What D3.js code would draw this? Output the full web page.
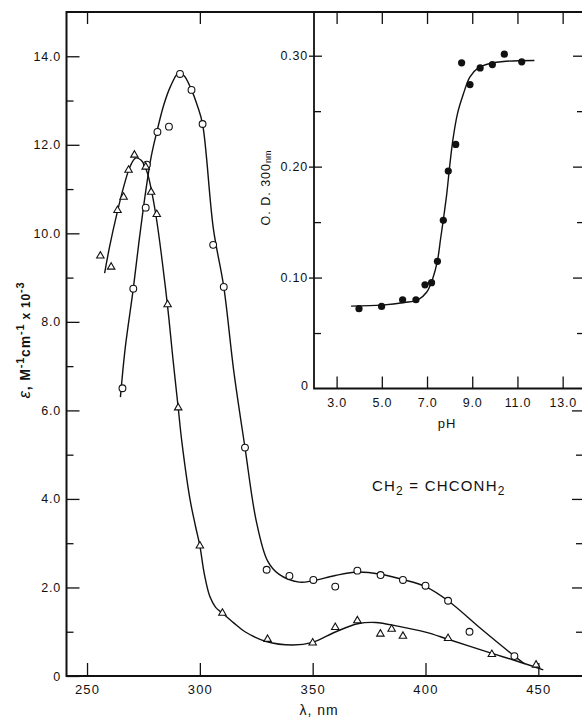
<!DOCTYPE html>
<html>
<head>
<meta charset="utf-8">
<script src="https://cdn.jsdelivr.net/npm/d3@7"></script>
<style>
    body { margin: 0; background: #fff; }
    svg { display: block; }
    text { font-family: 'Liberation Sans', Arial, sans-serif; fill: #111; }
    .domain { display: none; }
    .tick line { stroke: #111; stroke-width: 1.3; }
</style>
</head>
<body>
<div id="chart"></div>
<script>
// Main spectrum: open circles
const circleLambda = [265.7, 270.5, 276, 276.5, 281.2, 286.3, 291.2, 296.3, 301.2, 305.9, 310.6, 320, 329.6, 339.7, 350.3, 360, 369.8, 380.1, 390, 400, 410, 419.5, 439.4]
const circleEps = [6.5, 8.75, 10.58, 11.55, 12.29, 12.41, 13.6, 13.24, 12.47, 9.74, 8.79, 5.16, 2.4, 2.26, 2.17, 2.02, 2.38, 2.28, 2.17, 2.04, 1.7, 1.0, 0.45]

// Main spectrum: open triangles
const triangleLambda = [255.9, 260.7, 263.5, 266.2, 268.4, 271, 276, 278.4, 280.9, 285.7, 290.4, 300, 310, 330, 350, 360, 369.8, 380, 385, 390, 410, 429.4, 449]
const triangleEps = [9.49, 9.24, 10.52, 10.82, 11.43, 11.77, 11.5, 10.93, 10.43, 8.39, 6.06, 2.94, 1.42, 0.83, 0.75, 1.1, 1.25, 0.95, 1.06, 0.9, 0.85, 0.49, 0.25]

// Hand drawn curves
const circleCurveLambda = [264.8, 266.9, 270.5, 273, 276, 278.5, 281.2, 284, 287, 290.5, 293, 296.3, 298.8, 301.2, 306, 310.6, 315, 320, 325, 330, 335, 344, 350, 360, 370, 380, 390, 400, 410, 425, 439.4, 444]
const circleCurveEps = [6.3, 7.4, 8.75, 9.8, 10.95, 11.75, 12.35, 12.9, 13.32, 13.62, 13.56, 13.24, 12.9, 12.47, 10.1, 8.79, 6.9, 5.16, 3.5, 2.6, 2.3, 2.12, 2.15, 2.27, 2.35, 2.3, 2.18, 2.02, 1.7, 1.05, 0.45, 0.27]

const triangleCurveLambda = [257.8, 260, 263.5, 266.5, 269, 271.5, 274, 276.5, 279, 281, 283, 285.7, 288, 290.4, 292, 295.6, 298, 300, 302, 304.4, 307, 310, 315, 320, 329.4, 341, 350, 360.3, 369.9, 377.9, 388.2, 400, 410, 429.4, 439.7, 452.2]
const triangleCurveEps = [9.1, 9.7, 10.5, 11.1, 11.5, 11.7, 11.65, 11.4, 10.85, 10.25, 9.5, 8.35, 7.2, 6.06, 5.3, 4.0, 3.4, 2.94, 2.3, 1.8, 1.55, 1.42, 1.2, 1.0, 0.78, 0.7, 0.76, 1.0, 1.18, 1.21, 1.12, 0.99, 0.83, 0.51, 0.35, 0.14]

// Inset titration: filled dots
const phValues = [3.99, 4.99, 5.92, 6.51, 6.91, 7.2, 7.46, 7.72, 7.94, 8.27, 8.53, 8.9, 9.35, 9.89, 10.42, 11.19]
const odValues = [0.072, 0.074, 0.08, 0.08, 0.0935, 0.0954, 0.1146, 0.1516, 0.196, 0.22, 0.2936, 0.274, 0.289, 0.292, 0.3014, 0.2945]

const phCurve = [3.64, 5.0, 6.0, 6.6, 6.99, 7.25, 7.46, 7.6, 7.72, 7.87, 8.0, 8.15, 8.35, 8.6, 8.9, 9.27, 9.79, 10.5, 11.75]
const odCurve = [0.0743, 0.0752, 0.0775, 0.08, 0.087, 0.099, 0.115, 0.135, 0.152, 0.175, 0.2, 0.225, 0.248, 0.265, 0.281, 0.289, 0.293, 0.295, 0.2957]

// Tick labels
const lambdaTicks = [250, 300, 350, 400, 450]
const epsTicks = [0, 2, 4, 6, 8, 10, 12, 14]
const epsTickLabels = ['0', '2.0', '4.0', '6.0', '8.0', '10.0', '12.0', '14.0']
const phTicks = [3, 5, 7, 9, 11, 13]
const phTickLabels = ['3.0', '5.0', '7.0', '9.0', '11.0', '13.0']
const odTicks = [0, 0.1, 0.2, 0.3]
const odTickLabels = ['0', '0.10', '0.20', '0.30']

const W = 582
const H = 723

const svg = d3.select('#chart')
    .append('svg')
    .attr('width', W)
    .attr('height', H)

// Main frame (right edge runs just off the page)
const main = { left: 66.5, right: 583, top: 12, bottom: 676 }
const inset = { left: 314, right: 583, top: 12, bottom: 388.5 }

const x = d3.scaleLinear().domain([240.9, 469.8]).range([main.left, main.right])
const y = d3.scaleLinear().domain([0, 15]).range([main.bottom, main.top])

const px = d3.scaleLinear().domain([2.0, 13.9]).range([inset.left, inset.right])
const py = d3.scaleLinear().domain([0, 0.3394]).range([inset.bottom, inset.top])

const tickFont = g => g.selectAll('text')
    .style('font-size', '12.5px')
    .style('letter-spacing', '0.8px')
    .attr('fill', '#111')

// ---- main axes ----
svg.append('g')
    .attr('transform', `translate(${main.left},0)`)
    .call(d3.axisLeft(y).tickValues(epsTicks).tickSizeInner(-13).tickSizeOuter(0).tickPadding(5.5)
        .tickFormat((d, i) => epsTickLabels[i]))
    .call(tickFont)
svg.append('g')
    .attr('transform', `translate(${main.left},0)`)
    .call(d3.axisLeft(y).tickValues(d3.range(1, 15, 2)).tickSizeInner(-7).tickSizeOuter(0).tickFormat(''))

// right side ticks below the inset
svg.append('g')
    .attr('transform', `translate(${main.right},0)`)
    .call(d3.axisRight(y).tickValues([2, 4, 6]).tickSizeInner(-11).tickSizeOuter(0).tickFormat(''))
svg.append('g')
    .attr('transform', `translate(${main.right},0)`)
    .call(d3.axisRight(y).tickValues([1, 3, 5]).tickSizeInner(-7).tickSizeOuter(0).tickFormat(''))

svg.append('g')
    .attr('transform', `translate(0,${main.bottom})`)
    .call(d3.axisBottom(x).tickValues(lambdaTicks).tickSizeInner(-13).tickSizeOuter(0).tickPadding(8.5))
    .call(g => g.selectAll('text').style('font-size', '13px').style('letter-spacing', '1.2px'))

svg.append('g')
    .attr('transform', `translate(0,${main.top})`)
    .call(d3.axisTop(x).tickValues([250, 300]).tickSizeInner(-12).tickSizeOuter(0).tickFormat(''))

// ---- inset axes ----
const insetLeft = svg.append('g')
    .attr('transform', `translate(${inset.left},0)`)
    .call(d3.axisLeft(py).tickValues(odTicks.slice(1)).tickSizeInner(-8).tickSizeOuter(0).tickPadding(6)
        .tickFormat((d, i) => odTickLabels[i + 1]))
    .call(tickFont)
insetLeft.selectAll('.tick line').attr('x1', -5)
svg.append('text')
    .attr('x', inset.left - 6)
    .attr('y', py(0))
    .attr('dy', '0.1em')
    .attr('text-anchor', 'end')
    .style('font-size', '12.5px')
    .text(odTickLabels[0])
svg.append('g')
    .attr('transform', `translate(${inset.left},0)`)
    .call(d3.axisLeft(py).tickValues([0.05, 0.15, 0.25]).tickSizeInner(-7).tickSizeOuter(0).tickFormat(''))

svg.append('g')
    .attr('transform', `translate(${inset.right},0)`)
    .call(d3.axisRight(py).tickValues([0.1, 0.2, 0.3]).tickSizeInner(-10).tickSizeOuter(0).tickFormat(''))
svg.append('g')
    .attr('transform', `translate(${inset.right},0)`)
    .call(d3.axisRight(py).tickValues([0.05, 0.15, 0.25]).tickSizeInner(-6).tickSizeOuter(0).tickFormat(''))

svg.append('g')
    .attr('transform', `translate(0,${inset.bottom})`)
    .call(d3.axisBottom(px).tickValues(phTicks).tickSizeInner(-12).tickSizeOuter(0).tickPadding(10)
        .tickFormat((d, i) => phTickLabels[i]))
    .call(tickFont)
svg.append('g')
    .attr('transform', `translate(0,${inset.top})`)
    .call(d3.axisTop(px).tickValues(phTicks).tickSizeInner(-12).tickSizeOuter(0).tickFormat(''))

// frames
svg.append('rect')
    .attr('x', main.left)
    .attr('y', main.top)
    .attr('width', main.right - main.left)
    .attr('height', main.bottom - main.top)
    .attr('fill', 'none')
    .attr('stroke', '#111')
    .attr('stroke-width', 2)
svg.append('path')
    .attr('d', `M${inset.left},${inset.top}V${inset.bottom}H${inset.right}`)
    .attr('fill', 'none')
    .attr('stroke', '#111')
    .attr('stroke-width', 1.8)

// ---- curves ----
const line = d3.line().curve(d3.curveCatmullRom.alpha(0.5))

const drawCurve = (xs, ys, sx, sy) => svg.append('path')
    .attr('d', line(xs.map((v, i) => [sx(v), sy(ys[i])])))
    .attr('fill', 'none')
    .attr('stroke', '#111')
    .attr('stroke-width', 1.4)

drawCurve(circleCurveLambda, circleCurveEps, x, y)
drawCurve(triangleCurveLambda, triangleCurveEps, x, y)
drawCurve(phCurve, odCurve, px, py)

// ---- markers ----
svg.append('g')
    .selectAll('circle')
    .data(circleLambda)
    .enter()
    .append('circle')
    .attr('cx', d => x(d))
    .attr('cy', (d, i) => y(circleEps[i]))
    .attr('r', 3.4)
    .attr('fill', '#fff')
    .attr('stroke', '#111')
    .attr('stroke-width', 1.1)

const tri = d3.symbol().type(d3.symbolTriangle).size(24)
svg.append('g')
    .selectAll('path')
    .data(triangleLambda)
    .enter()
    .append('path')
    .attr('d', tri)
    .attr('transform', (d, i) => `translate(${x(d)},${y(triangleEps[i])})`)
    .attr('fill', '#fff')
    .attr('stroke', '#111')
    .attr('stroke-width', 1.1)

svg.append('g')
    .selectAll('circle')
    .data(phValues)
    .enter()
    .append('circle')
    .attr('cx', d => px(d))
    .attr('cy', (d, i) => py(odValues[i]))
    .attr('r', 3.6)
    .attr('fill', '#111')

// ---- labels ----
const yLabel = svg.append('text')
    .attr('transform', 'translate(30,340) rotate(-90)')
    .attr('text-anchor', 'middle')
    .style('font-size', '14px')
    .style('font-weight', 'bold')
    .style('letter-spacing', '0.8px')
yLabel.append('tspan').style('font-style', 'italic').style('font-weight', 'normal').style('font-size', '17px').text('ε')
yLabel.append('tspan').text(',   M')
yLabel.append('tspan').attr('dy', -6).style('font-size', '11px').text('-1')
yLabel.append('tspan').attr('dy', 6).text('cm')
yLabel.append('tspan').attr('dy', -6).style('font-size', '11px').text('-1')
yLabel.append('tspan').attr('dy', 6).style('font-size', '12px').text('  x 10')
yLabel.append('tspan').attr('dy', -6).style('font-size', '11px').text('-3')

svg.append('text')
    .attr('x', 319)
    .attr('y', 715)
    .attr('text-anchor', 'middle')
    .style('font-size', '14px')
    .style('letter-spacing', '1px')
    .text('λ,  nm')

svg.append('text')
    .attr('x', 447)
    .attr('y', 428)
    .attr('text-anchor', 'middle')
    .style('font-size', '13px')
    .style('letter-spacing', '1px')
    .text('pH')

const odLabel = svg.append('text')
    .attr('transform', 'translate(270,188) rotate(-90)')
    .attr('text-anchor', 'middle')
    .style('font-size', '12.5px')
    .style('letter-spacing', '1px')
odLabel.append('tspan').text('O. D. 300')
odLabel.append('tspan').attr('dy', 1).style('font-size', '9px').style('letter-spacing', '0px').text('nm')

const formula = svg.append('text')
    .attr('x', 372)
    .attr('y', 491)
    .style('font-size', '15px')
    .style('letter-spacing', '1.2px')
formula.append('tspan').text('CH')
formula.append('tspan').attr('dy', 4).style('font-size', '12px').text('2')
formula.append('tspan').attr('dy', -4).text(' = CHCONH')
formula.append('tspan').attr('dy', 4).style('font-size', '12px').text('2')
</script>
</body>
</html>
